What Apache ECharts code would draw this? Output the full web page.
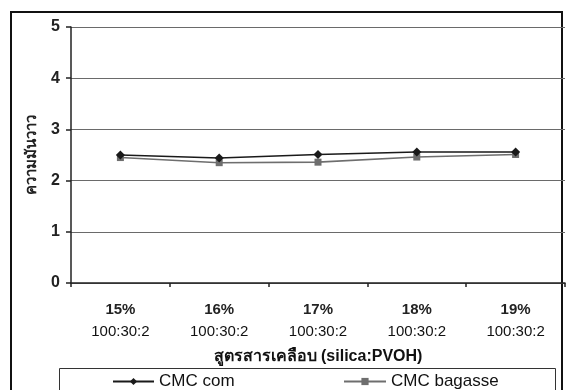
<!DOCTYPE html>
<html>
<head>
<meta charset="utf-8">
<style>
  html, body { margin: 0; padding: 0; background: #fff; }
  #chart { width: 566px; height: 390px; }
</style>
<script src="https://cdn.jsdelivr.net/npm/echarts@6/dist/echarts.min.js"></script>
</head>
<body>
<div id="chart"></div>
<script>
// Coating formulations (silica loading, silica:PVOH ratio)
const percentLabels = ['15%', '16%', '17%', '18%', '19%'];
const ratioLabels = ['100:30:2', '100:30:2', '100:30:2', '100:30:2', '100:30:2'];
const categories = percentLabels.map((p, i) => p + '\n' + ratioLabels[i]);

// Gloss readings for each coating
const cmcCorn = [2.50, 2.44, 2.51, 2.56, 2.56];
const cmcBagasse = [2.45, 2.35, 2.36, 2.46, 2.51];

const seriesNames = ['CMC com', 'CMC bagasse'];
const yTicks = { min: 0, max: 5, interval: 1 };

const FONT = '"Liberation Sans", Arial, "Noto Sans", sans-serif';

const chart = echarts.init(document.getElementById('chart'), null, { renderer: 'canvas' });

chart.setOption({
  backgroundColor: '#ffffff',
  animation: false,
  textStyle: { fontFamily: FONT, color: '#111' },
  grid: { left: 71, right: 1, top: 27, bottom: 107, containLabel: false },
  xAxis: {
    type: 'category',
    data: categories,
    boundaryGap: true,
    name: 'สูตรสารเคลือบ (silica:PVOH)',
    nameLocation: 'middle',
    nameGap: 66,
    nameTextStyle: { fontFamily: FONT, fontSize: 16, fontWeight: 'bold', color: '#111' },
    axisLine: { show: true, lineStyle: { color: '#222', width: 1.5 } },
    axisTick: { show: true, alignWithLabel: false, length: 4, inside: false, lineStyle: { color: '#222', width: 1.5 } },
    axisLabel: {
      margin: 16,
      interval: 0,
      formatter: function (v) {
        const parts = v.split('\n');
        return '{p|' + parts[0] + '}\n{r|' + parts[1] + '}';
      },
      rich: {
        p: { fontFamily: FONT, fontSize: 15, fontWeight: 'bold', color: '#222', lineHeight: 22 },
        r: { fontFamily: FONT, fontSize: 15, color: '#111', lineHeight: 22 }
      }
    },
    splitLine: { show: false }
  },
  yAxis: {
    type: 'value',
    min: yTicks.min,
    max: yTicks.max,
    interval: yTicks.interval,
    name: 'ความมันวาว',
    nameLocation: 'middle',
    nameGap: 32,
    nameRotate: 90,
    nameTextStyle: { fontFamily: FONT, fontSize: 15, fontWeight: 'bold', color: '#222' },
    axisLine: { show: true, lineStyle: { color: '#222', width: 1.5 } },
    axisTick: { show: true, length: 5, lineStyle: { color: '#222', width: 1.5 } },
    axisLabel: { margin: 11, fontFamily: FONT, fontSize: 16, fontWeight: 'bold', color: '#222' },
    splitLine: { show: true, lineStyle: { color: '#6a6a6a', width: 1.2 } }
  },
  legend: [
    {
      data: [seriesNames[0]],
      left: 112, top: 373,
      itemWidth: 41, itemHeight: 9,
      textStyle: { fontFamily: FONT, fontSize: 17, color: '#111' },
      padding: 0
    },
    {
      data: [seriesNames[1]],
      left: 343, top: 373,
      itemWidth: 42, itemHeight: 9,
      textStyle: { fontFamily: FONT, fontSize: 17, color: '#111' },
      padding: 0
    }
  ],
  graphic: [
    {
      type: 'rect', silent: true, z: -1,
      shape: { x: 11, y: 12, width: 551, height: 400 },
      style: { fill: 'none', stroke: '#111', lineWidth: 2 }
    },
    {
      type: 'rect', silent: true,
      shape: { x: 59.5, y: 368.5, width: 496, height: 40 },
      style: { fill: 'none', stroke: '#333', lineWidth: 1 }
    }
  ],
  series: [
    {
      name: seriesNames[0],
      type: 'line',
      data: cmcCorn,
      symbol: 'diamond',
      symbolSize: 9,
      lineStyle: { color: '#1a1a1a', width: 1.6 },
      itemStyle: { color: '#1a1a1a' },
      z: 3
    },
    {
      name: seriesNames[1],
      type: 'line',
      data: cmcBagasse,
      symbol: 'rect',
      symbolSize: 7,
      lineStyle: { color: '#6e6e6e', width: 1.6 },
      itemStyle: { color: '#6e6e6e' },
      z: 2
    }
  ]
});
</script>
</body>
</html>
